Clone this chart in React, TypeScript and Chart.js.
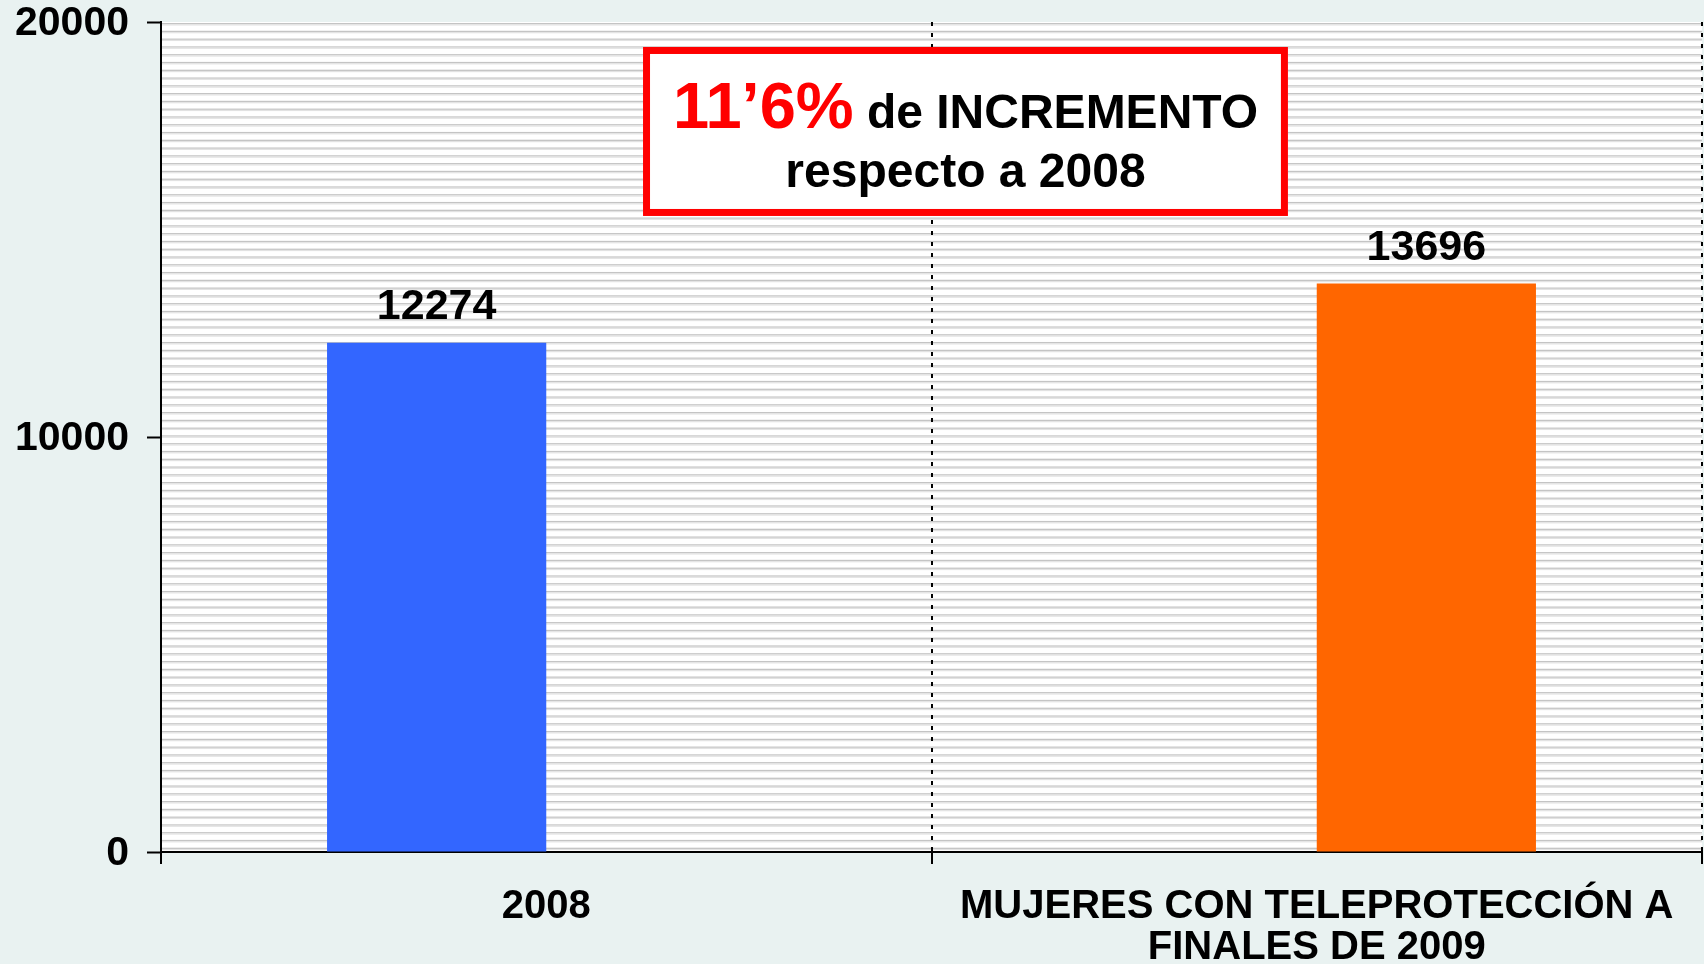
import React, { useEffect, useRef } from 'react';
import { Chart, registerables } from 'chart.js';

Chart.register(...registerables);

const categories: (string | string[])[] = ['2008', ['MUJERES CON TELEPROTECCIÓN A', 'FINALES DE 2009']];
const values2008: (number | null)[] = [12274, null];
const values2009: (number | null)[] = [null, 13696];
const yTicks = [0, 10000, 20000];
const headlinePct = '11’6%';
const headlineRest = ' de INCREMENTO';
const headlineLine2 = 'respecto a 2008';

const FONT = '"Liberation Sans", Arial, Helvetica, sans-serif';
const PAGE_BG = '#e9f2f1';

const backgroundPlugin = {
  id: 'bgPattern',
  beforeDraw(chart: any) {
    const { ctx, chartArea: ca, width, height } = chart;
    ctx.save();
    ctx.fillStyle = PAGE_BG;
    ctx.fillRect(0, 0, width, height);
    ctx.fillStyle = '#ffffff';
    ctx.fillRect(ca.left, ca.top, ca.right - ca.left, ca.bottom - ca.top);
    const step = 7.78;
    for (let y = ca.top + 1; y < ca.bottom - 1; y += step) {
      ctx.fillStyle = '#c4c4c4';
      ctx.fillRect(ca.left, y, ca.right - ca.left, 1.3);
      ctx.fillStyle = '#e2e2e2';
      ctx.fillRect(ca.left, y + 1.3, ca.right - ca.left, 1.2);
    }
    ctx.restore();
  },
};

const valueLabelPlugin = {
  id: 'valueLabels',
  afterDatasetsDraw(chart: any) {
    const { ctx } = chart;
    ctx.save();
    ctx.font = `bold 43px ${FONT}`;
    ctx.fillStyle = '#000';
    ctx.textAlign = 'center';
    ctx.textBaseline = 'middle';
    chart.data.datasets.forEach((ds: any, di: number) => {
      const meta = chart.getDatasetMeta(di);
      meta.data.forEach((el: any, i: number) => {
        const v = ds.data[i];
        if (v === null || v === undefined) return;
        ctx.fillText(String(v), el.x, el.y - 35);
      });
    });
    ctx.restore();
  },
};

const boxPlugin = {
  id: 'headlineBox',
  afterDraw(chart: any) {
    const { ctx, chartArea: ca } = chart;
    const w = ca.right - ca.left;
    const h = ca.bottom - ca.top;
    const x0 = ca.left + 0.3128 * w;
    const x1 = ca.left + 0.7313 * w;
    const y0 = ca.top + 0.0301 * h;
    const y1 = ca.top + 0.2337 * h;
    ctx.save();
    ctx.fillStyle = '#ffffff';
    ctx.fillRect(x0, y0, x1 - x0, y1 - y0);
    ctx.strokeStyle = '#ff0000';
    ctx.lineWidth = 7;
    ctx.strokeRect(x0 + 3.5, y0 + 3.5, x1 - x0 - 7, y1 - y0 - 7);
    const cx = (x0 + x1) / 2;
    ctx.textBaseline = 'alphabetic';
    ctx.textAlign = 'left';
    const fBig = `bold 65px ${FONT}`;
    const fMid = `bold 48px ${FONT}`;
    ctx.font = fBig;
    const wPct = ctx.measureText(headlinePct).width;
    ctx.font = fMid;
    const wRest = ctx.measureText(headlineRest).width;
    const startX = cx - (wPct + wRest) / 2;
    const base1 = y0 + 81;
    ctx.font = fBig;
    ctx.fillStyle = '#ff0000';
    ctx.fillText(headlinePct, startX, base1);
    ctx.font = fMid;
    ctx.fillStyle = '#000000';
    ctx.fillText(headlineRest, startX + wPct, base1);
    ctx.textAlign = 'center';
    ctx.fillText(headlineLine2, cx, y0 + 140);
    ctx.restore();
  },
};

export default function App() {
  const ref = useRef<HTMLCanvasElement | null>(null);

  useEffect(() => {
    document.body.style.margin = '0';
    document.body.style.background = PAGE_BG;
    if (!ref.current) return;
    const chart = new Chart(ref.current, {
      type: 'bar',
      data: {
        labels: categories as any,
        datasets: [
          {
            label: '2008',
            data: values2008 as any,
            backgroundColor: '#3366ff',
            borderWidth: 0,
            categoryPercentage: 0.569,
            barPercentage: 1,
          },
          {
            label: '2009',
            data: values2009 as any,
            backgroundColor: '#ff6600',
            borderWidth: 0,
            categoryPercentage: 0.569,
            barPercentage: 1,
          },
        ],
      },
      options: {
        animation: false,
        responsive: true,
        maintainAspectRatio: false,
        layout: { padding: { top: 22, right: 2, left: 0, bottom: 0 } },
        plugins: {
          legend: { display: false },
          tooltip: { enabled: false },
        },
        scales: {
          x: {
            afterFit: (s: any) => {
              s.height = 112;
              s.paddingLeft = 0;
              s.paddingRight = 0;
            },
            grid: {
              color: '#000',
              lineWidth: 2,
              offset: true,
              drawOnChartArea: true,
              tickLength: 12,
              tickColor: '#000',
              tickWidth: 2,
            },
            border: { color: '#000', width: 2, dash: [4, 7] },
            ticks: {
              color: '#000',
              font: { family: FONT, size: 40, weight: 'bold', lineHeight: 1.03 },
              padding: 22,
              maxRotation: 0,
              autoSkip: false,
            },
          },
          y: {
            min: 0,
            max: 20000,
            afterBuildTicks: (s: any) => {
              s.ticks = yTicks.map((v) => ({ value: v }));
            },
            afterFit: (s: any) => {
              s.width = 161;
              s.paddingTop = 0;
              s.paddingBottom = 0;
            },
            grid: {
              drawOnChartArea: false,
              tickLength: 14,
              tickColor: '#000',
              tickWidth: 2,
            },
            border: { color: '#000', width: 2 },
            ticks: {
              color: '#000',
              font: { family: FONT, size: 41, weight: 'bold', lineHeight: 1 },
              padding: 18,
              labelOffset: 2,
              callback: (v: any) => String(v),
            },
          },
        },
      },
      plugins: [backgroundPlugin, valueLabelPlugin, boxPlugin],
    });
    return () => chart.destroy();
  }, []);

  return (
    <div style={{ width: 1704, height: 964, position: 'relative' }}>
      <canvas ref={ref} style={{ display: 'block' }} />
    </div>
  );
}
